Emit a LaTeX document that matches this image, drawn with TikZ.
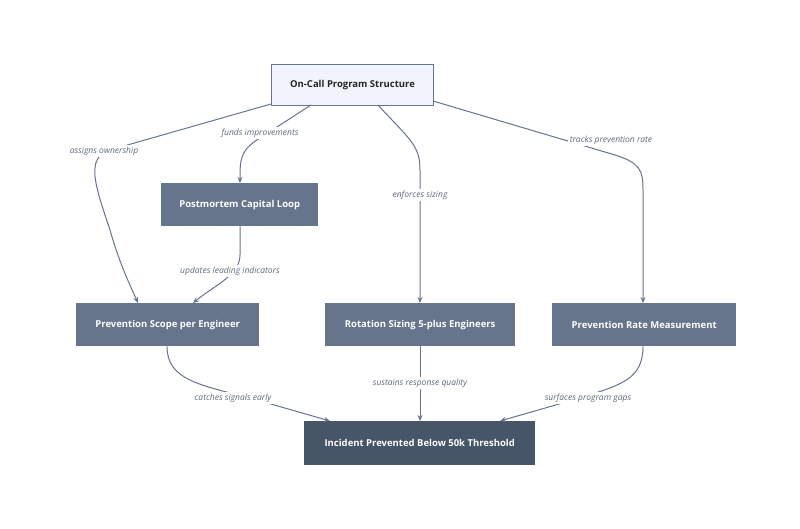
\documentclass[tikz,border=0pt]{standalone}
\usepackage{fontspec}
\setmainfont{Open Sans}
\usetikzlibrary{arrows.meta}
\definecolor{boxc}{HTML}{66758C}
\definecolor{darkc}{HTML}{475569}
\definecolor{topf}{HTML}{F1F4FA}
\definecolor{linec}{HTML}{66758C}
\definecolor{labc}{HTML}{5F6B7D}
\tikzset{
  box/.style={draw=none,fill=boxc,text=white,font=\bfseries\fontsize{9.5}{11}\selectfont,inner sep=0pt,anchor=north west},
  conn/.style={draw=linec,line width=1pt,-{Stealth[length=6pt,width=5pt]}},
  lab/.style={fill=white,text=labc,font=\itshape\fontsize{8.5}{10}\selectfont,inner sep=1.5pt}
}
\begin{document}
\begin{tikzpicture}[x=1pt,y=-1pt]
\useasboundingbox[fill=white] (0,0) rectangle (800,529);
\node[box,fill=topf,draw=linec,line width=1pt,text=black!85,minimum width=162pt,minimum height=41pt] (top) at (271,64) {On-Call Program Structure};
\node[box,minimum width=157pt,minimum height=43pt] (pm) at (161,183) {Postmortem Capital Loop};
\node[box,minimum width=183pt,minimum height=43pt] (ps) at (76,303) {Prevention Scope per Engineer};
\node[box,minimum width=190pt,minimum height=43pt] (rs) at (325,303) {Rotation Sizing 5-plus Engineers};
\node[box,minimum width=184pt,minimum height=43pt] (pr) at (552,303) {Prevention Rate Measurement};
\node[box,fill=darkc,minimum width=231pt,minimum height=44pt] (inc) at (304,421) {Incident Prevented Below 50k Threshold};

\draw[conn] (top.south west) ++(0,-2) coordinate (a1) (a1) -- (110,150) .. controls (85,158) and (95,185) .. (110,230) .. controls (120,265) and (130,285) .. (ps.north -| 138,0);
\node[lab] (l1) at (104,151) {assigns ownership};
\draw[conn] (311,105) -- (260,138) .. controls (240,150) and (240,160) .. (pm.north -| 240,0);
\node[lab] (l2) at (260,133) {funds improvements};
\draw[conn] (378,105) .. controls (410,140) and (420,145) .. (420,170) -- (rs.north -| 420,0);
\node[lab] (l3) at (420,195) {enforces sizing};
\draw[conn] (433,101) -- (615,155) .. controls (640,163) and (643,170) .. (643,190) -- (pr.north -| 643,0);
\node[lab] (l4) at (611,140) {tracks prevention rate};
\draw[conn] (pm.south -| 240,0) -- (240,255) .. controls (240,275) and (215,285) .. (ps.north -| 193,0);
\node[lab] (l5) at (230,271) {updates leading indicators};
\draw[conn] (ps.south -| 167,0) .. controls (167,380) and (200,385) .. (250,398) -- (inc.north -| 330,0);
\node[lab] (l6) at (233,398) {catches signals early};
\draw[conn] (rs.south -| 420,0) -- (inc.north -| 420,0);
\node[lab] (l7) at (420,383) {sustains response quality};
\draw[conn] (pr.south -| 643,0) .. controls (643,380) and (620,385) .. (580,398) -- (inc.north -| 500,0);
\node[lab] (l8) at (588,398) {surfaces program gaps};
\end{tikzpicture}
\end{document}
